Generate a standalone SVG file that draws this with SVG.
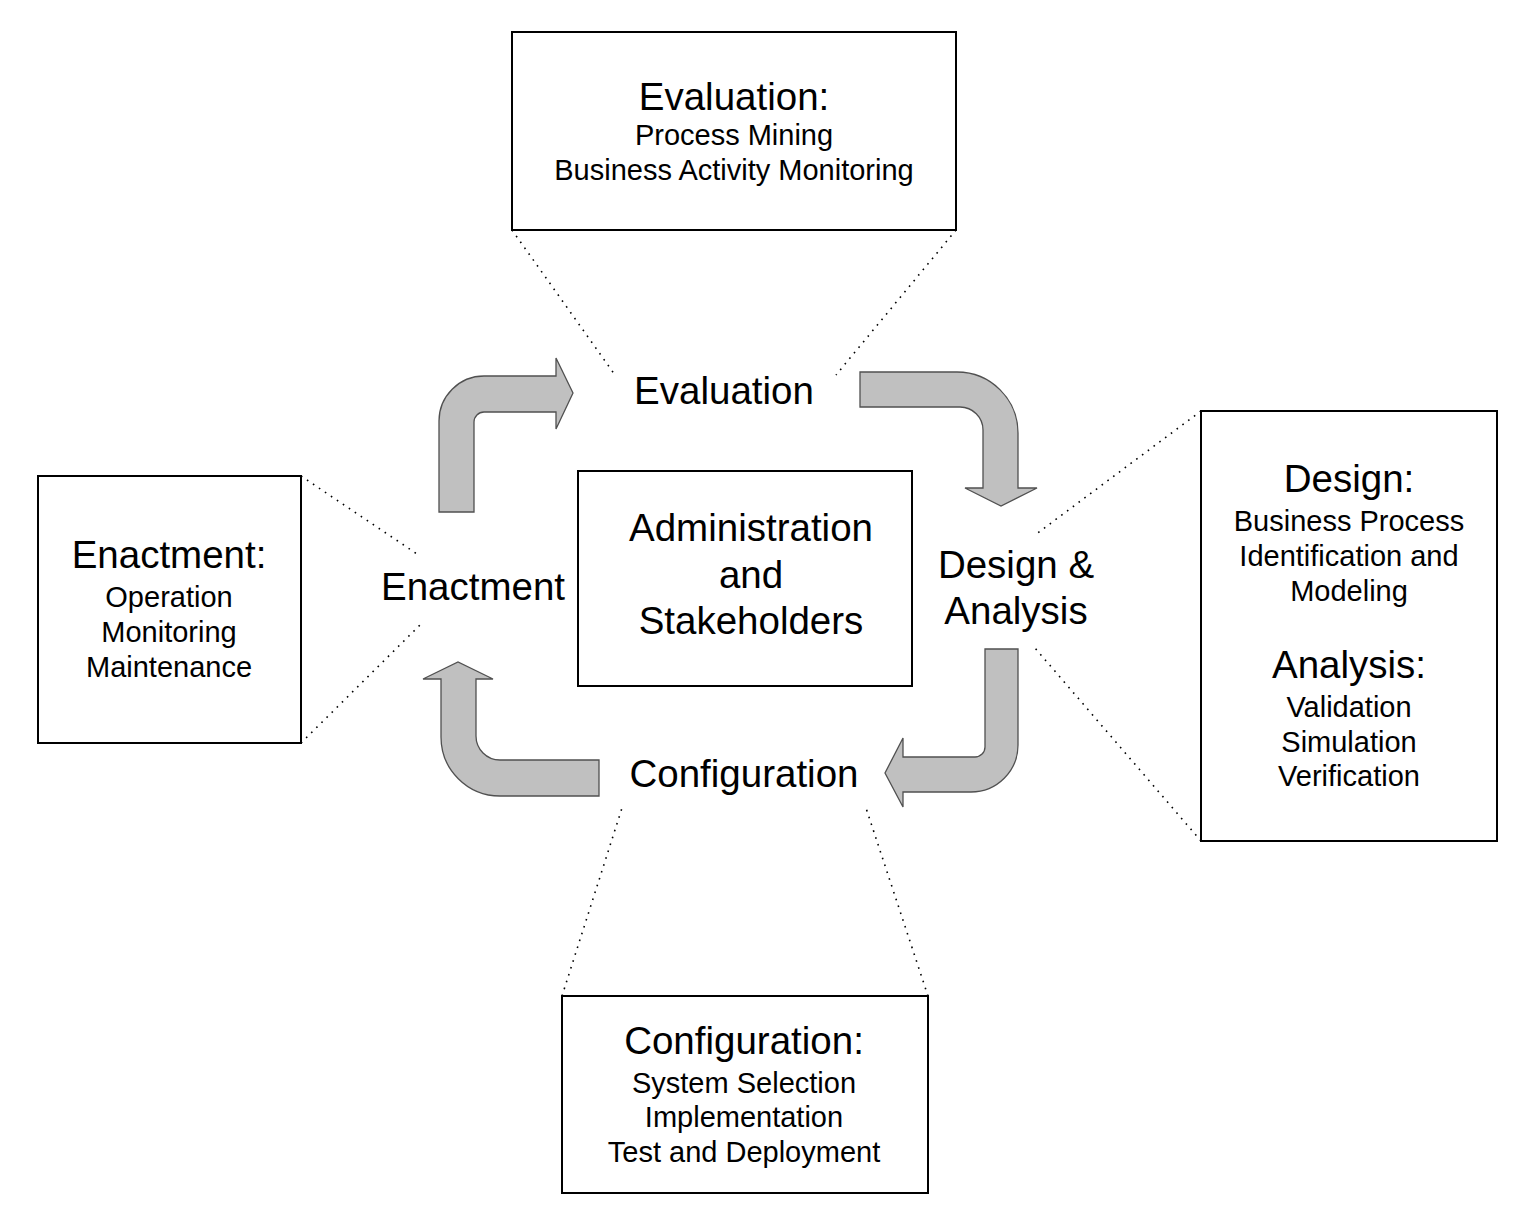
<svg xmlns="http://www.w3.org/2000/svg" width="1530" height="1218" viewBox="0 0 1530 1218">
<style>
.box{fill:#fff;stroke:#000;stroke-width:2}
.big{font-family:"Liberation Sans",Arial,sans-serif;font-size:38.5px;text-anchor:middle;fill:#000}
.sm{font-family:"Liberation Sans",Arial,sans-serif;font-size:29px;text-anchor:middle;fill:#000}
.dot{stroke:#000;stroke-width:1.6;stroke-dasharray:1.6 5.6;fill:none}
.arr{fill:#c0c0c0;stroke:#505050;stroke-width:1.3;stroke-linejoin:miter}
</style>
<rect width="1530" height="1218" fill="#fff"/>
<g id="connectors">
<line class="dot" x1="512" y1="230" x2="615" y2="375"/>
<line class="dot" x1="956" y1="230" x2="836" y2="375"/>
<line class="dot" x1="1201" y1="411" x2="1035" y2="535"/>
<line class="dot" x1="1201" y1="841" x2="1035" y2="648"/>
<line class="dot" x1="301" y1="476" x2="420" y2="556"/>
<line class="dot" x1="301" y1="743" x2="420" y2="625"/>
<line class="dot" x1="562" y1="996" x2="622" y2="808"/>
<line class="dot" x1="928" y1="996" x2="866" y2="808"/>
<path class="arr" d="M 439 512 L 439 421 A 45 45 0 0 1 484 376 L 556 376 L 556 358 L 573 393 L 556 429 L 556 412 L 484 412 A 10 10 0 0 0 474 422 L 474 512 Z"/>
<path class="arr" d="M 860 372 L 957 372 A 61 61 0 0 1 1018 433 L 1018 488 L 1037 488 L 1001 506 L 965 488 L 983 488 L 983 430 A 23 23 0 0 0 960 407 L 860 407 Z"/>
<path class="arr" d="M 985 649 L 1018 649 L 1018 745 A 47 47 0 0 1 971 792 L 903 792 L 903 807 L 885 773 L 903 738 L 903 757 L 975 757 A 10 10 0 0 0 985 747 Z"/>
<path class="arr" d="M 599 760 L 599 796 L 500 796 A 59 59 0 0 1 441 737 L 441 679 L 423 679 L 458 662 L 493 679 L 476 679 L 476 736 A 24 24 0 0 0 500 760 Z"/>
</g>
<g id="evaluation-box">
<rect class="box" x="512" y="32" width="444" height="198"/>
<text class="big" x="734" y="110">Evaluation:</text>
<text class="sm" x="734" y="145">Process Mining</text>
<text class="sm" x="734" y="180">Business Activity Monitoring</text>
</g>
<g id="design-box">
<rect class="box" x="1201" y="411" width="296" height="430"/>
<text class="big" x="1349" y="492">Design:</text>
<text class="sm" x="1349" y="531">Business Process</text>
<text class="sm" x="1349" y="566">Identification and</text>
<text class="sm" x="1349" y="601">Modeling</text>
<text class="big" x="1349" y="678">Analysis:</text>
<text class="sm" x="1349" y="717">Validation</text>
<text class="sm" x="1349" y="752">Simulation</text>
<text class="sm" x="1349" y="786">Verification</text>
</g>
<g id="enactment-box">
<rect class="box" x="38" y="476" width="263" height="267"/>
<text class="big" x="169" y="568">Enactment:</text>
<text class="sm" x="169" y="607">Operation</text>
<text class="sm" x="169" y="642">Monitoring</text>
<text class="sm" x="169" y="677">Maintenance</text>
</g>
<g id="configuration-box">
<rect class="box" x="562" y="996" width="366" height="197"/>
<text class="big" x="744" y="1054">Configuration:</text>
<text class="sm" x="744" y="1093">System Selection</text>
<text class="sm" x="744" y="1127">Implementation</text>
<text class="sm" x="744" y="1162">Test and Deployment</text>
</g>
<g id="center-box">
<rect class="box" x="578" y="471" width="334" height="215"/>
<text class="big" x="751" y="541">Administration</text>
<text class="big" x="751" y="588">and</text>
<text class="big" x="751" y="634">Stakeholders</text>
</g>
<g id="label-evaluation"><text class="big" x="724" y="404">Evaluation</text></g>
<g id="label-enactment"><text class="big" x="473" y="600">Enactment</text></g>
<g id="label-design"><text class="big" x="1016" y="578">Design &amp;</text><text class="big" x="1016" y="624">Analysis</text></g>
<g id="label-configuration"><text class="big" x="744" y="787">Configuration</text></g>
</svg>
